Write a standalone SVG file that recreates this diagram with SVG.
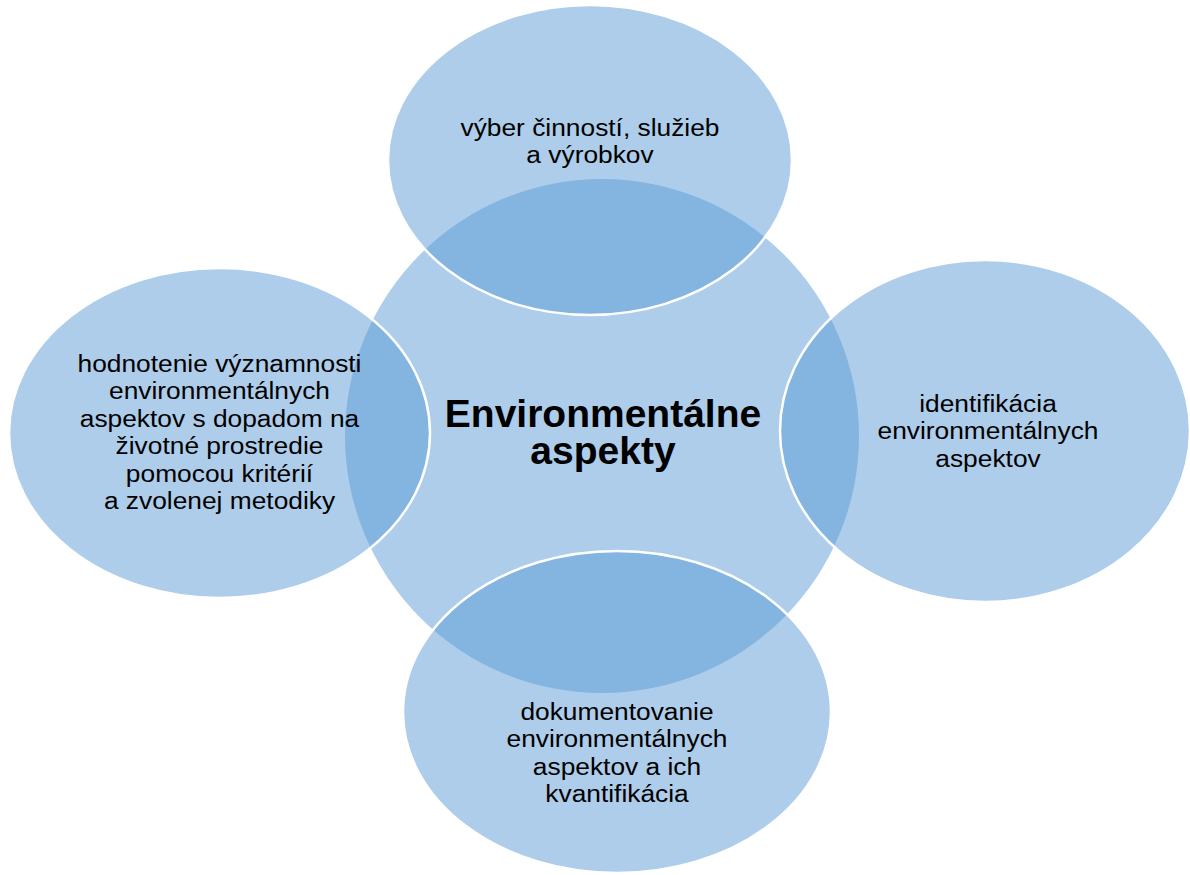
<svg xmlns="http://www.w3.org/2000/svg" width="1190" height="875" viewBox="0 0 1190 875">
<style>
.center{fill:#5b9bd5;fill-opacity:0.5;stroke:none}
.outer{fill:#5b9bd5;fill-opacity:0.5;stroke:#ffffff;stroke-width:2.5}
.lbl{font-family:"Liberation Sans",Arial,sans-serif;font-size:24.5px;fill:#000000;text-anchor:middle}
.title{font-family:"Liberation Sans",Arial,sans-serif;font-size:39px;font-weight:bold;fill:#000000;text-anchor:middle}
</style>
<rect width="1190" height="875" fill="#ffffff"/>
<g id="node-center">
<circle class="center" cx="602" cy="436" r="257"/>
<text class="title" x="603"><tspan x="603" y="427">Environmentálne</tspan><tspan x="603" y="464">aspekty</tspan></text>
</g>
<g id="node-top">
<ellipse class="outer" cx="590" cy="160" rx="202" ry="155"/>
<text class="lbl" transform="translate(590 0) scale(1.075 1)"><tspan x="0" y="136">výber činností, služieb</tspan><tspan x="0" y="163.5">a výrobkov</tspan></text>
</g>
<g id="node-right">
<ellipse class="outer" cx="985" cy="431" rx="205" ry="171"/>
<text class="lbl" transform="translate(988 0) scale(1.075 1)"><tspan x="0" y="412">identifikácia</tspan><tspan x="0" y="439.5">environmentálnych</tspan><tspan x="0" y="467">aspektov</tspan></text>
</g>
<g id="node-bottom">
<ellipse class="outer" cx="617" cy="712" rx="214" ry="161"/>
<text class="lbl" transform="translate(617 0) scale(1.075 1)"><tspan x="0" y="720">dokumentovanie</tspan><tspan x="0" y="747.5">environmentálnych</tspan><tspan x="0" y="775">aspektov a ich</tspan><tspan x="0" y="802.5">kvantifikácia</tspan></text>
</g>
<g id="node-left">
<ellipse class="outer" cx="219.5" cy="433" rx="210.5" ry="165"/>
<text class="lbl" transform="translate(219.5 0) scale(1.075 1)"><tspan x="0" y="372">hodnotenie významnosti</tspan><tspan x="0" y="399.5">environmentálnych</tspan><tspan x="0" y="427">aspektov s dopadom na</tspan><tspan x="0" y="454.5">životné prostredie</tspan><tspan x="0" y="482">pomocou kritérií</tspan><tspan x="0" y="509.5">a zvolenej metodiky</tspan></text>
</g>
<g id="connectors"/>
</svg>
